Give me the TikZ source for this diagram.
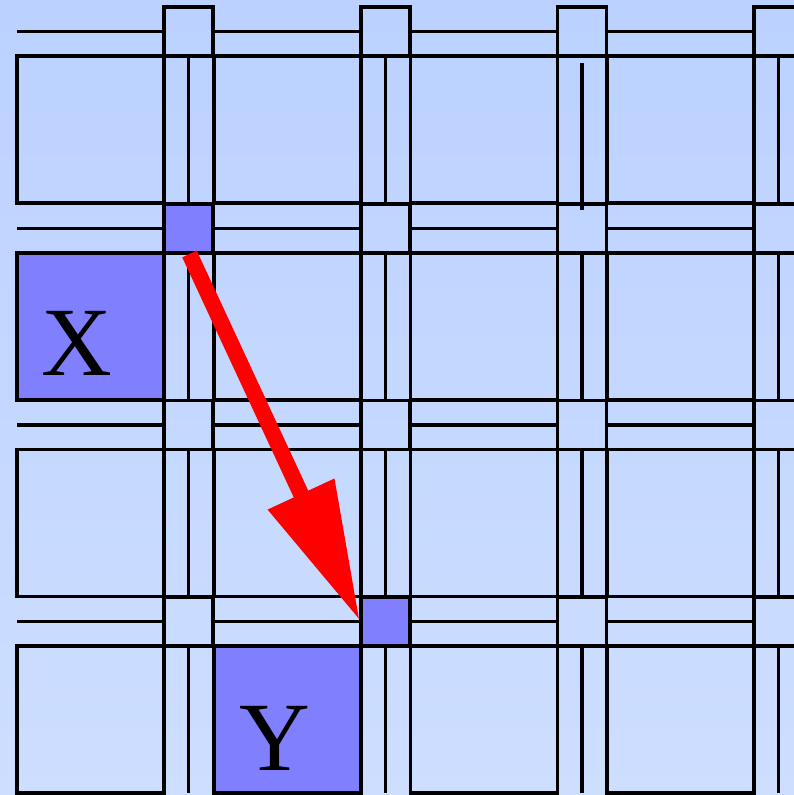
\documentclass[tikz,border=0pt]{standalone}
\usepackage{fontspec}
\setmainfont{Liberation Serif}
\usetikzlibrary{arrows.meta}
\definecolor{bgtop}{RGB}{187,209,255}
\definecolor{bgbot}{RGB}{205,222,255}
\definecolor{hot}{RGB}{128,128,255}
\tikzset{
 boxline/.style={line width=3.7pt},
 wire/.style={line width=3.3pt},
 lbl/.style={font=\fontsize{98}{98}\selectfont, inner sep=0pt},
 route/.style={draw=red, line width=16pt, -{Triangle[length=140pt,width=69pt]}}
}
\begin{document}
\begin{tikzpicture}[x=1pt,y=-1pt]
\useasboundingbox (0,0) rectangle (794,795);
\shade[top color=bgtop,bottom color=bgbot] (0,0) rectangle (794,795);
\begin{scope}
\clip (0,0) rectangle (794,795);
\def\P{196.75}
% highlighted switch boxes and blocks
\fill[hot] (164,203.75) rectangle (213,252.75);
\fill[hot] (17,252.75) rectangle (164,399.75);
\fill[hot] (360.75,597.25) rectangle (409.75,646.25);
\fill[hot] (213.75,646.25) rectangle (360.75,793.25);
\foreach \i in {0,...,4}{
 \foreach \j in {0,...,3}{
  \draw[boxline] ({17+\P*\i},{56+\P*\j}) rectangle ({164+\P*\i},{203+\P*\j});
  \draw[boxline] ({164+\P*\i},{7+\P*\j}) rectangle ({213+\P*\i},{56+\P*\j});
  \draw[wire] ({17+\P*\i},{31.5+\P*\j}) -- ({164+\P*\i},{31.5+\P*\j});
  \ifnum\i\j=20
   \draw[wire] ({188.5+\P*\i},{63+\P*\j}) -- ({188.5+\P*\i},{210+\P*\j});
  \else
   \draw[wire] ({188.5+\P*\i},{56+\P*\j}) -- ({188.5+\P*\i},{203+\P*\j});
  \fi
 }
}
\end{scope}
\node[lbl] (X) at (77,343.5) {X};
\node[lbl] (Y) at (274.5,738) {Y};
\coordinate (s) at (189.5,254);
\coordinate (t) at (360,621);
\draw[route] (s) -- (t);
\end{tikzpicture}
\end{document}
